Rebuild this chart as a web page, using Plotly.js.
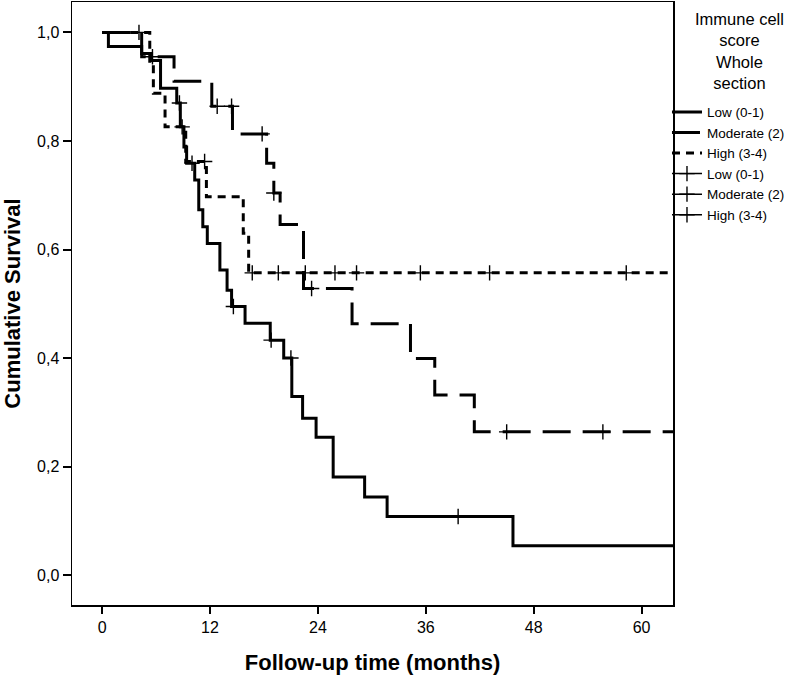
<!DOCTYPE html>
<html>
<head>
<meta charset="utf-8">
<script src="https://cdn.plot.ly/plotly-3.0.1.min.js"></script>
<style>html,body{margin:0;padding:0;background:#fff;}#chart{width:799px;height:678px;}</style>
</head>
<body>
<div id="chart"></div>
<script>
// Kaplan-Meier step data (months, cumulative survival)
const lowTime = [0, 0.7, 4.4, 5.5, 6.5, 8.3, 8.7, 9.1, 9.4, 10.3, 10.75, 11.2, 11.7, 13.1, 13.9, 14.4, 15.9, 18.7, 20.2, 21.1, 22.3, 23.8, 25.7, 29.2, 31.7, 45.7, 64];
const lowSurv = [1, 0.974, 0.961, 0.948, 0.897, 0.870, 0.826, 0.789, 0.759, 0.728, 0.673, 0.642, 0.611, 0.562, 0.525, 0.495, 0.464, 0.433, 0.400, 0.329, 0.289, 0.254, 0.181, 0.144, 0.108, 0.054, 0.054];
const modTime = [0, 4.4, 8.0, 12.2, 14.5, 18.3, 19.1, 19.8, 22.4, 27.8, 34.3, 37.0, 41.4, 64];
const modSurv = [1, 0.955, 0.910, 0.864, 0.813, 0.759, 0.704, 0.646, 0.528, 0.463, 0.399, 0.332, 0.264, 0.264];
const highTime = [0, 5.3, 5.7, 7.0, 9.3, 11.6, 15.7, 16.3, 64];
const highSurv = [1, 0.944, 0.888, 0.826, 0.762, 0.697, 0.630, 0.557, 0.557];

// Censored observations
const lowCensTime = [8.6, 10.0, 14.6, 18.8, 21.0, 39.6];
const lowCensSurv = [0.870, 0.759, 0.495, 0.433, 0.400, 0.108];
const modCensTime = [4.1, 5.6, 12.8, 14.4, 17.8, 19.1, 23.3, 45.0, 55.7];
const modCensSurv = [1.0, 0.955, 0.864, 0.864, 0.813, 0.704, 0.528, 0.264, 0.264];
const highCensTime = [8.9, 11.4, 16.7, 19.6, 22.6, 25.9, 28.3, 35.4, 43.1, 58.3];
const highCensSurv = [0.826, 0.762, 0.557, 0.557, 0.557, 0.557, 0.557, 0.557, 0.557, 0.557];

const groupNames = ['Low (0-1)', 'Moderate (2)', 'High (3-4)'];
const legendTitle = 'Immune cell<br>score<br>Whole<br>section';
const xTicks = [0, 12, 24, 36, 48, 60];
const yTicks = [0, 0.2, 0.4, 0.6, 0.8, 1.0];

function separated(arr) {
  const out = [];
  arr.forEach((v, i) => { if (i) out.push(null); out.push(v); });
  return out;
}

const FONT = '"Liberation Sans", Arial, Helvetica, sans-serif';

const traces = [
  {x: lowTime, y: lowSurv, mode: 'lines', line: {shape: 'hv', color: '#000', width: 3}, name: groupNames[0], hoverinfo: 'skip'},
  {x: modTime, y: modSurv, mode: 'lines', line: {shape: 'hv', color: '#000', width: 3, dash: '28px,12px'}, name: groupNames[1], hoverinfo: 'skip'},
  {x: highTime, y: highSurv, mode: 'lines', line: {shape: 'hv', color: '#000', width: 3, dash: '8px,6px'}, name: groupNames[2], hoverinfo: 'skip'},
];
const cens = [[lowCensTime, lowCensSurv], [modCensTime, modCensSurv], [highCensTime, highCensSurv]];
cens.forEach((c, i) => {
  traces.push({
    x: separated(c[0]), y: separated(c[1]), mode: 'lines+markers', connectgaps: false,
    line: {color: '#000', width: 1.5},
    marker: {symbol: 'cross-thin', size: 11, color: '#000', line: {color: '#000', width: 1.4}},
    name: groupNames[i], hoverinfo: 'skip'
  });
});

const layout = {
  width: 799, height: 678,
  margin: {l: 72, r: 126, t: 2, b: 73},
  paper_bgcolor: '#fff', plot_bgcolor: '#fff',
  separators: ',.',
  font: {family: FONT, color: '#000', size: 16},
  showlegend: true,
  legend: {
    x: 0.99, xanchor: 'left', y: 0.843, yanchor: 'top',
    bgcolor: 'rgba(0,0,0,0)', borderwidth: 0,
    font: {family: FONT, size: 13.5, color: '#000'},
    tracegroupgap: 0, itemwidth: 30
  },
  annotations: [{
    text: legendTitle, xref: 'paper', yref: 'paper', x: 1.11, y: 0.99, xanchor: 'center', yanchor: 'top',
    align: 'center', showarrow: false, font: {family: FONT, size: 16.5, color: '#000'}
  }],
  xaxis: {
    range: [-3.35, 63.5], tickvals: xTicks, ticks: 'outside', ticklen: 7, tickwidth: 2, tickcolor: '#000',
    showline: true, linewidth: 1.5, linecolor: '#000', mirror: true,
    showgrid: false, zeroline: false, tickfont: {size: 16},
    title: {text: 'Follow-up time (months)', font: {size: 22, family: FONT, weight: 'bold'}, standoff: 20}
  },
  yaxis: {
    range: [-0.055, 1.056], tickvals: yTicks, tickformat: '.1f', ticks: 'outside', ticklen: 8, tickwidth: 2, tickcolor: '#000',
    showline: true, linewidth: 1.5, linecolor: '#000', mirror: true,
    showgrid: false, zeroline: false, tickfont: {size: 16},
    title: {text: 'Cumulative Survival', font: {size: 22, family: FONT, weight: 'bold'}, standoff: 12}
  }
};

Plotly.newPlot('chart', traces, layout, {displayModeBar: false, staticPlot: true});
</script>
</body>
</html>
